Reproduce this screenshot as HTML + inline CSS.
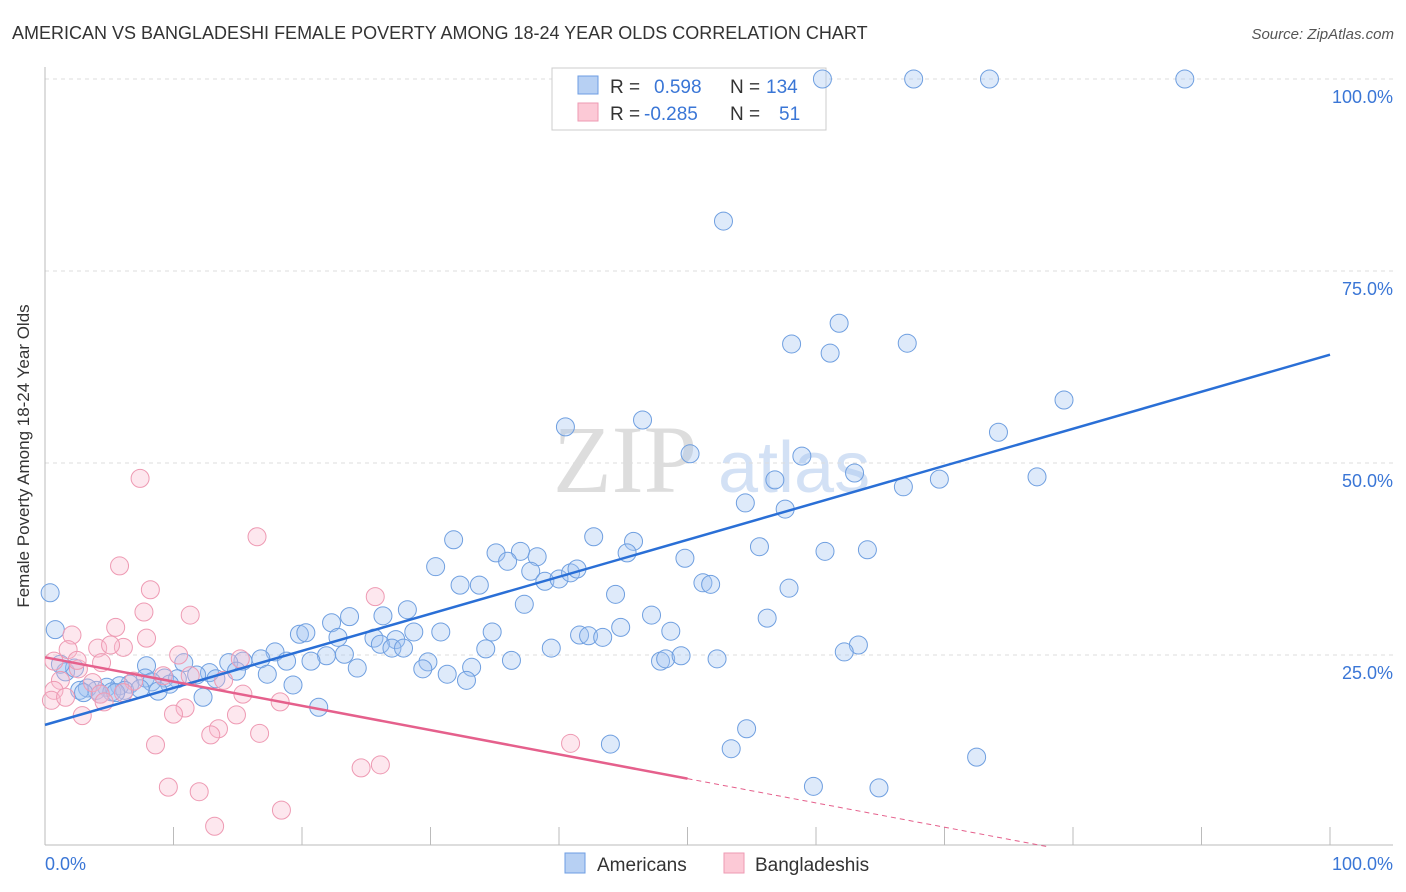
<!DOCTYPE html>
<html><head><meta charset="utf-8"><style>
body{margin:0;background:#fff;font-family:"Liberation Sans",sans-serif;}
#wrap{position:relative;width:1406px;height:892px;overflow:hidden;}
</style></head><body>
<div id="wrap">
<svg id="svg" width="1406" height="892" xmlns="http://www.w3.org/2000/svg">
<text x="12" y="39" font-size="18" fill="#333">AMERICAN VS BANGLADESHI FEMALE POVERTY AMONG 18-24 YEAR OLDS CORRELATION CHART</text>
<text x="1394" y="39" font-size="15" fill="#555" font-style="italic" text-anchor="end">Source: ZipAtlas.com</text>
<text x="553" y="492" font-size="96" fill="#ddd" font-family="Liberation Serif,serif">ZIP</text>
<text x="718" y="492" font-size="72" fill="#d3e1f5">atlas</text>
<g id="grid"></g>
<g id="axes"></g>
<g>
<rect x="552" y="68" width="274" height="62" fill="#fff" stroke="#ccc"/>
<rect x="578" y="76" width="20" height="18" fill="#b7d0f3" stroke="#6d9de3"/>
<rect x="578" y="103" width="20" height="18" fill="#fcc9d6" stroke="#ee9ab3"/>
<text x="610" y="93" font-size="19" fill="#333">R = <tspan x="654" fill="#3a76d6">0.598</tspan><tspan x="730" fill="#333">N = </tspan><tspan x="766" fill="#3a76d6">134</tspan></text>
<text x="610" y="120" font-size="19" fill="#333">R = <tspan x="644" fill="#3a76d6">-0.285</tspan><tspan x="730" fill="#333">N = </tspan><tspan x="779" fill="#3a76d6">51</tspan></text>
</g>
<g id="pts"></g>
<g id="lines"></g>
<text x="29" y="456" font-size="17" fill="#333" text-anchor="middle" transform="rotate(-90 29 456)">Female Poverty Among 18-24 Year Olds</text>
<text x="45" y="870" font-size="18" fill="#3a76d6">0.0%</text>
<text x="1393" y="870" font-size="18" fill="#3a76d6" text-anchor="end">100.0%</text>
<rect x="565" y="853" width="20" height="20" fill="#b7d0f3" stroke="#6d9de3"/>
<text x="597" y="871" font-size="19" fill="#333">Americans</text>
<rect x="724" y="853" width="20" height="20" fill="#fcc9d6" stroke="#ee9ab3"/>
<text x="755" y="871" font-size="19" fill="#333">Bangladeshis</text>
</svg>
</div>
<script>
const yTicks=[25,50,75,100];
const yTickLabels=["25.0%","50.0%","75.0%","100.0%"];
const xTicks=[0,10,20,30,40,50,60,70,80,90,100];
const amX=[60.5,67.6,73.5,88.7,52.8,61.8,58.1,61.1,67.1,79.3,74.2,46.5,40.5,50.2,58.9,63,56.8,69.6,66.8,77.2,54.5,57.6,55.6,60.7,64,31.8,42.7,45.8,35.1,37,38.3,45.3,49.8,30.4,36,37.8,38.9,40,40.9,41.4,32.3,33.8,51.2,51.8,57.9,44.4,37.3,47.2,28.2,26.3,23.7,56.2,22.3,19.8,20.3,28.7,30.8,34.8,41.6,42.3,43.4,44.8,48.7,22.8,25.6,27.3,26.1,27,27.9,39.4,34.3,63.3,62.2,17.9,21.9,23.3,20.7,18.8,16.8,15.4,14.3,29.8,36.3,47.9,48.3,49.5,52.3,10.8,7.9,0.8,0.4,24.3,29.4,33.2,31.3,32.8,12.8,14.9,17.3,11.8,1.6,2.3,1.2,7.8,9.3,10.3,13.3,8.3,6.6,5.8,4.8,4,3.3,2.7,5.2,6.2,7.4,9.7,19.3,8.8,3,4.3,12.3,5.5,21.3,44,54.6,53.4,72.5,59.8,64.9];
const amY=[100,100,100,100,81.5,68.2,65.5,64.3,65.6,58.2,54,55.6,54.7,51.2,50.9,48.7,47.8,47.9,46.9,48.2,44.8,44,39.1,38.5,38.7,40,40.4,39.8,38.3,38.5,37.8,38.3,37.6,36.5,37.2,35.9,34.6,34.9,35.7,36.2,34.1,34.1,34.4,34.2,33.7,32.9,31.6,30.2,30.9,30.1,30,29.8,29.2,27.7,27.9,28,28,28,27.6,27.5,27.3,28.6,28.1,27.3,27.2,27,26.4,25.9,25.9,25.9,25.8,26.3,25.4,25.4,24.9,25.1,24.2,24.2,24.5,24.2,24,24.1,24.3,24.2,24.5,24.9,24.5,24,23.6,28.3,33.1,23.3,23.2,23.4,22.5,21.7,22.7,22.9,22.5,22.4,22.8,23.3,23.8,22,22,21.9,21.9,21.5,21.2,21,20.8,20.4,20.7,20.4,20.2,20.4,20.6,21.2,21.1,20.3,20.1,19.9,19.5,20.1,18.2,13.4,15.4,12.8,11.7,7.9,7.7];
const bdX=[7.4,16.5,5.8,8.2,25.7,7.7,11.3,5.5,7.9,2.1,4.1,6.1,5.1,1.8,0.7,4.4,10.4,2.6,15.2,9.2,11.3,13.9,6.9,3.7,1.2,0.7,6.1,15.4,4.3,0.5,18.3,10.9,10,14.9,2.9,13.5,12.9,16.7,8.6,40.9,26.1,24.6,9.6,12,18.4,13.2,2.5,1.6,4.6];
const bdY=[48,40.4,36.6,33.5,32.6,30.6,30.2,28.6,27.2,27.6,25.9,26,26.3,25.7,24.2,24,25,23.2,24.5,22.3,22.3,21.7,21.6,21.4,21.7,20.4,20.1,19.9,19.9,19.1,18.9,18.1,17.3,17.2,17.1,15.4,14.6,14.8,13.3,13.5,10.7,10.3,7.8,7.2,4.8,2.7,24.3,19.5,18.9];
const amTrend=[15.9,64.1];
const bdTrend=[24.7,-0.316];
const X0=45,X1=1330,Y0=847,Y100=79;
const sx=v=>X0+(X1-X0)*v/100, sy=v=>Y0-(Y0-Y100)*v/100;
const NS="http://www.w3.org/2000/svg";
function mk(tag,attrs,parent){const e=document.createElementNS(NS,tag);for(const k in attrs)e.setAttribute(k,attrs[k]);document.getElementById(parent).appendChild(e);return e;}
yTicks.forEach((t,i)=>{
  const g=mk('line',{x1:X0,x2:1393,y1:sy(t),y2:sy(t),stroke:'#ddd','stroke-dasharray':'4,4'},'grid');
  
  
  const l=mk('text',{x:1393,y:sy(t)+24,'font-size':18,fill:'#3a76d6','text-anchor':'end'},'grid');
  l.textContent=yTickLabels[i];
  
  
});
let a=mk('line',{x1:X0,x2:X0,y1:67,y2:845,stroke:'#bbb'},'axes');


a=mk('line',{x1:X0,x2:1393,y1:845,y2:845,stroke:'#bbb'},'axes');


xTicks.forEach(t=>{
  const e=mk('line',{x1:sx(t),x2:sx(t),y1:827,y2:845,stroke:'#bbb'},'axes');
  
  
});
amX.forEach((x,i)=>{
  const c=mk('circle',{cx:sx(x),cy:sy(amY[i]),r:9,fill:'rgba(160,196,240,0.35)',stroke:'#6f9fe0','stroke-width':1},'pts');
  
  
});
bdX.forEach((x,i)=>{
  const c=mk('circle',{cx:sx(x),cy:sy(bdY[i]),r:9,fill:'rgba(250,185,205,0.35)',stroke:'#ee9ab3','stroke-width':1},'pts');
  
  
});
let ln=mk('line',{x1:sx(0),y1:sy(amTrend[0]),x2:sx(100),y2:sy(amTrend[1]),stroke:'#2a6fd6','stroke-width':2.5},'lines');


const bf=x=>bdTrend[0]+bdTrend[1]*x;
ln=mk('line',{x1:sx(0),y1:sy(bf(0)),x2:sx(50),y2:sy(bf(50)),stroke:'#e5608c','stroke-width':2.5},'lines');


const xe=-bdTrend[0]/bdTrend[1];
ln=mk('line',{x1:sx(50),y1:sy(bf(50)),x2:sx(xe),y2:sy(0),stroke:'#e5608c','stroke-width':1,'stroke-dasharray':'5,4'},'lines');


</script>
</body></html>
